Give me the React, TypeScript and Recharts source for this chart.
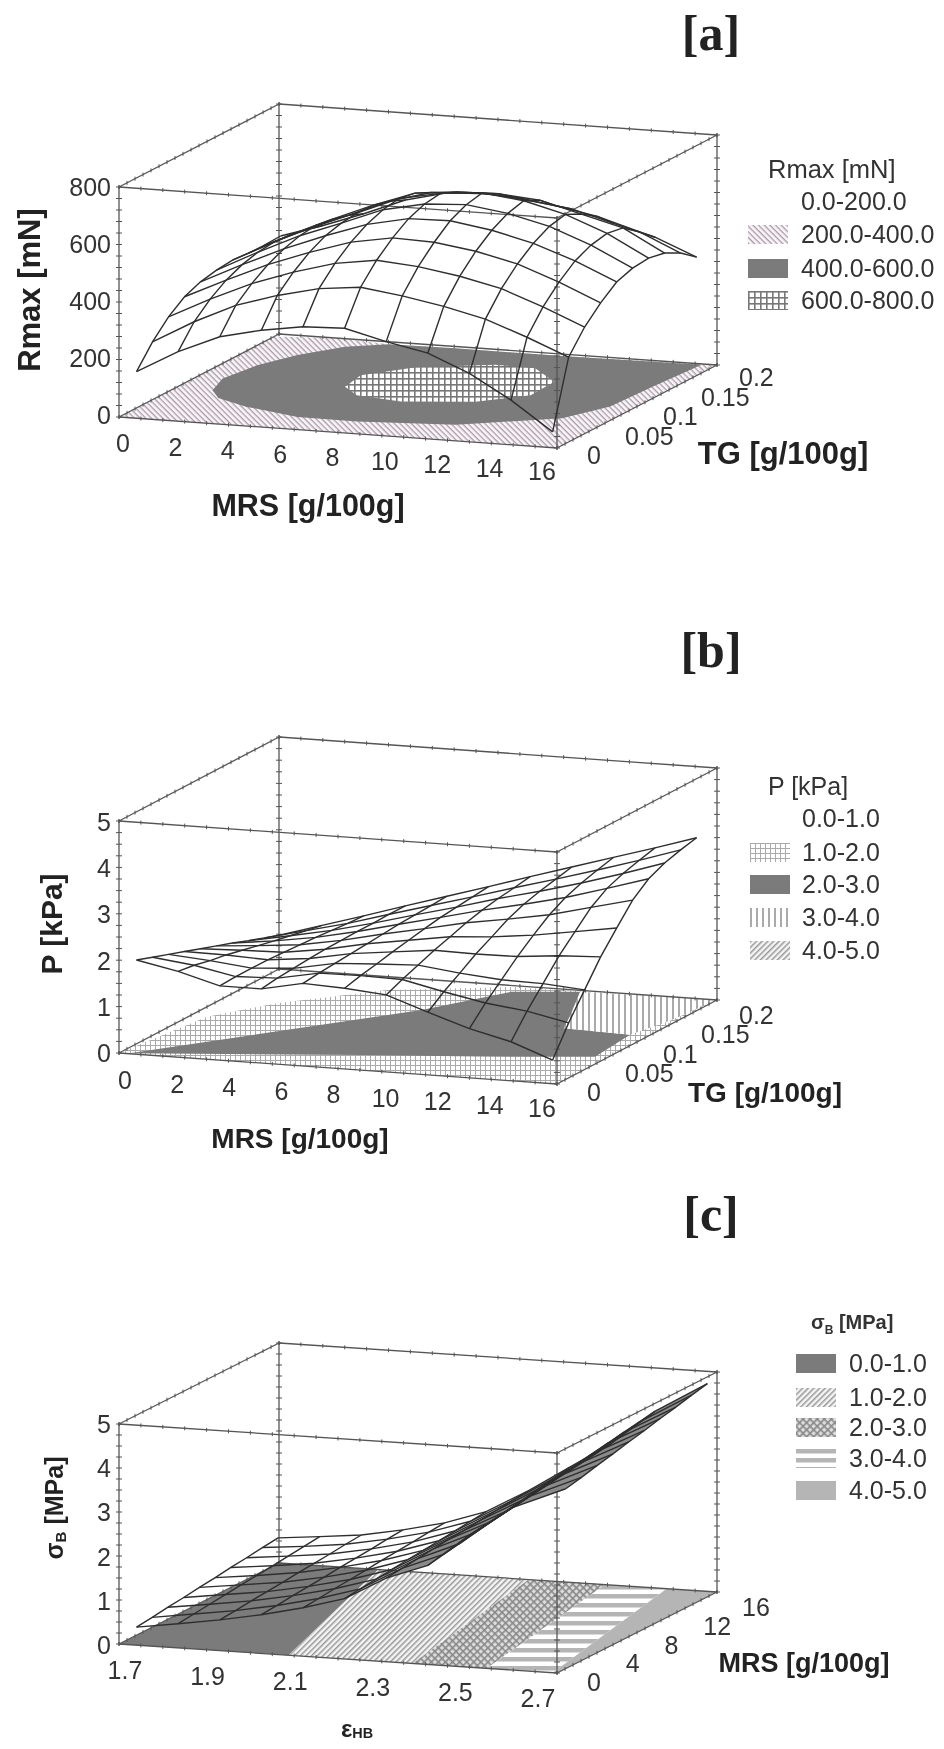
import { ScatterChart, Scatter, XAxis, YAxis } from 'recharts'

// grid of the fitted surfaces (one entry per wire of the mesh)
const mrsGrid = [0.64, 2.16, 3.68, 5.2, 6.72, 8.24, 9.76, 11.28, 12.8, 14.32, 15.84]
const tgGrid = [0, 0.02, 0.04, 0.06, 0.08, 0.1, 0.12, 0.14, 0.16, 0.18]
const strainGrid = [1.74, 1.835, 1.93, 2.025, 2.12, 2.215, 2.31, 2.405, 2.5, 2.6, 2.72]
const mrsRows = [0, 1.57, 3.15, 4.72, 6.29, 7.87, 9.44, 11.01, 12.59, 14.16]

// Rmax [mN]: one row per MRS value, one column per TG value
const rmaxSurface = [
  [162, 237, 295, 336, 359, 371, 377, 372, 371, 374],
  [242, 317, 367, 404, 429, 444, 450, 446, 435, 420],
  [304, 384, 431, 468, 494, 511, 518, 510, 495, 472],
  [337, 429, 481, 521, 550, 565, 572, 570, 555, 530],
  [359, 463, 522, 567, 600, 622, 632, 622, 595, 565],
  [364, 478, 543, 592, 630, 652, 660, 636, 605, 572],
  [328, 458, 531, 587, 633, 660, 672, 640, 600, 558],
  [298, 432, 508, 566, 610, 640, 655, 628, 580, 540],
  [238, 398, 475, 532, 575, 605, 618, 590, 553, 500],
  [155, 345, 422, 479, 524, 550, 562, 552, 510, 462],
  [55, 286, 362, 417, 461, 480, 486, 475, 446, 403],
]

// P [kPa]
const pressureSurface = [
  [2.03, 1.91, 1.79, 1.67, 1.55, 1.43, 1.31, 1.18, 1.06, 0.94],
  [1.85, 1.8, 1.72, 1.66, 1.58, 1.5, 1.42, 1.35, 1.28, 1.21],
  [1.6, 1.62, 1.62, 1.62, 1.6, 1.58, 1.56, 1.53, 1.5, 1.48],
  [1.6, 1.65, 1.68, 1.71, 1.73, 1.74, 1.75, 1.75, 1.76, 1.76],
  [1.78, 1.82, 1.85, 1.88, 1.91, 1.94, 1.97, 1.99, 2.01, 2.03],
  [1.74, 1.83, 1.9, 1.98, 2.05, 2.12, 2.18, 2.22, 2.26, 2.3],
  [1.66, 1.81, 1.94, 2.08, 2.19, 2.31, 2.4, 2.47, 2.52, 2.58],
  [1.35, 1.61, 1.83, 2.06, 2.25, 2.45, 2.59, 2.69, 2.77, 2.85],
  [1.06, 1.43, 1.75, 2.07, 2.35, 2.61, 2.8, 2.93, 3.03, 3.12],
  [0.84, 1.32, 1.73, 2.15, 2.49, 2.83, 3.06, 3.2, 3.3, 3.39],
  [0.51, 1.13, 1.66, 2.19, 2.63, 3.05, 3.33, 3.49, 3.59, 3.67],
]

// sigma B [MPa]: one row per strain value, one column per MRS value
const stressSurface = [
  [0.41, 0.45, 0.5, 0.54, 0.59, 0.63, 0.68, 0.72, 0.77, 0.81],
  [0.55, 0.59, 0.63, 0.67, 0.71, 0.74, 0.78, 0.82, 0.86, 0.9],
  [0.7, 0.73, 0.77, 0.8, 0.83, 0.87, 0.9, 0.93, 0.97, 1.0],
  [0.88, 0.91, 0.95, 0.98, 1.01, 1.05, 1.08, 1.11, 1.15, 1.18],
  [1.1, 1.13, 1.17, 1.2, 1.23, 1.27, 1.3, 1.33, 1.37, 1.4],
  [1.37, 1.41, 1.45, 1.49, 1.53, 1.56, 1.6, 1.64, 1.68, 1.72],
  [1.9, 1.94, 1.98, 2.02, 2.06, 2.09, 2.13, 2.17, 2.21, 2.25],
  [2.25, 2.32, 2.38, 2.45, 2.52, 2.58, 2.65, 2.72, 2.78, 2.85],
  [3.0, 3.05, 3.1, 3.15, 3.2, 3.25, 3.3, 3.35, 3.4, 3.45],
  [3.7, 3.76, 3.82, 3.88, 3.94, 4.01, 4.07, 4.13, 4.19, 4.25],
  [4.2, 4.28, 4.37, 4.45, 4.54, 4.62, 4.71, 4.79, 4.88, 4.96],
]

// contour bands on the floor of each box, as [x value, y value]
const rmaxBand200 = [[0, 0], [0, 0.194], [2.13, 0.2], [4.16, 0.195], [10.88, 0.196], [16, 0.2], [16, 0]]
const rmaxBand400 = [
  [1.34, 0.071], [0.95, 0.097], [1.25, 0.131], [1.9, 0.158], [2.91, 0.183], [4.16, 0.195], [6.56, 0.196],
  [10.88, 0.196], [15.5, 0.198], [15.28, 0.144], [15.14, 0.096], [14.32, 0.064], [11.31, 0.034], [7.94, 0.026],
  [5.73, 0.027], [3.44, 0.041], [2.63, 0.049], [2.02, 0.055],
]
const rmaxBand600 = [
  [5.39, 0.098], [5.18, 0.125], [6.47, 0.15], [8.86, 0.167], [10.35, 0.166], [11.81, 0.14], [11.88, 0.108],
  [10.51, 0.086], [8.1, 0.075], [6.29, 0.082],
]
const pressureBand1 = [[0, 0], [0.62, 0.089], [2.02, 0.128], [4.77, 0.172], [8.61, 0.197], [16, 0.2], [16, 0]]
const pressureBand2 = [
  [0.35, 0.001], [7.1, 0.135], [8.88, 0.187], [11.09, 0.197], [12.29, 0.143], [12.8, 0.118], [15.34, 0.114],
  [15.55, 0.063], [11.84, 0.046], [7.92, 0.032],
]
const pressureBand3 = [[11.09, 0.197], [16, 0.2], [15.76, 0.15], [15.34, 0.114], [12.8, 0.118], [12.29, 0.143]]
const stressBand0 = [[1.7, 0], [1.7, 16], [1.927, 16], [2.087, 0]]
const stressBand1 = [[2.087, 0], [1.927, 16], [2.27, 16], [2.37, 0]]
const stressBand2 = [[2.37, 0], [2.27, 16], [2.445, 16], [2.54, 0]]
const stressBand3 = [[2.54, 0], [2.445, 16], [2.585, 16], [2.69, 0]]
const stressBand4 = [[2.69, 0], [2.585, 16], [2.7, 16], [2.7, 0]]

// tick labels
const mrsTicks = ['0', '2', '4', '6', '8', '10', '12', '14', '16']
const tgTicks = ['0', '0.05', '0.1', '0.15', '0.2']
const rmaxTicks = ['0', '200', '400', '600', '800']
const pressureTicks = ['0', '1', '2', '3', '4', '5']
const strainTicks = ['1.7', '1.9', '2.1', '2.3', '2.5', '2.7']
const mrsDepthTicks = ['0', '4', '8', '12', '16']

const SANS = '"Liberation Sans", Arial, sans-serif'
const SERIF = '"Liberation Serif", "Times New Roman", serif'
const LINE = '#2e2e2e'
const BOX = '#555'
const DARK = '#7b7b7b'

const panels = [
  {
    key: 'a',
    top: 0,
    height: 560,
    title: '[a]',
    titleY: 33,
    origin: [119, 417],
    du: [438, 31],
    dv: [160, -83],
    dw: 230,
    xRange: [0, 16],
    yRange: [0, 0.2],
    zMax: 800,
    xGrid: mrsGrid,
    yGrid: tgGrid,
    surface: rmaxSurface,
    bands: [
      { points: rmaxBand200, fill: 'url(#diagPink)' },
      { points: rmaxBand400, fill: DARK },
      { points: rmaxBand600, fill: 'url(#gridCoarse)' },
    ],
    xTicks: mrsTicks,
    xTickLine: [[123, 443], [542, 471]],
    yTicks: tgTicks,
    yTickLine: [[587, 455], [739, 377]],
    zTicks: rmaxTicks,
    zTickLine: [[111, 415], [111, 187]],
    titles: [
      { x: 29, y: 290, label: 'Rmax  [mN]', size: 31, rotate: true },
      { x: 308, y: 505, label: 'MRS [g/100g]', size: 30.5 },
      { x: 783, y: 453, label: 'TG [g/100g]', size: 31 },
    ],
    legend: {
      title: 'Rmax [mN]',
      titleX: 768,
      titleY: 169,
      titleSize: 25.5,
      swatchX: 748,
      textX: 801,
      rows: [
        { y: 201, label: '0.0-200.0', fill: 'none' },
        { y: 234, label: '200.0-400.0', fill: 'url(#diagPink)' },
        { y: 268, label: '400.0-600.0', fill: DARK },
        { y: 300, label: '600.0-800.0', fill: 'url(#gridCoarse)' },
      ],
    },
  },
  {
    key: 'b',
    top: 560,
    height: 620,
    title: '[b]',
    titleY: 650,
    origin: [119, 1053],
    du: [438, 31],
    dv: [160, -84],
    dw: 232,
    xRange: [0, 16],
    yRange: [0, 0.2],
    zMax: 5,
    xGrid: mrsGrid,
    yGrid: tgGrid,
    surface: pressureSurface,
    bands: [
      { points: pressureBand1, fill: 'url(#gridFine)' },
      { points: pressureBand2, fill: DARK },
      { points: pressureBand3, fill: 'url(#vertical)' },
    ],
    xTicks: mrsTicks,
    xTickLine: [[125, 1080], [542, 1108]],
    yTicks: tgTicks,
    yTickLine: [[587, 1092], [739, 1015]],
    zTicks: pressureTicks,
    zTickLine: [[111, 1053], [111, 822]],
    titles: [
      { x: 51, y: 924, label: 'P  [kPa]', size: 30, rotate: true },
      { x: 300, y: 1138, label: 'MRS [g/100g]', size: 28 },
      { x: 765, y: 1092, label: 'TG [g/100g]', size: 28 },
    ],
    legend: {
      title: 'P [kPa]',
      titleX: 768,
      titleY: 786,
      titleSize: 25,
      swatchX: 750,
      textX: 802,
      rows: [
        { y: 818, label: '0.0-1.0', fill: 'none' },
        { y: 852, label: '1.0-2.0', fill: 'url(#gridFine)' },
        { y: 884, label: '2.0-3.0', fill: DARK },
        { y: 917, label: '3.0-4.0', fill: 'url(#vertical)' },
        { y: 950, label: '4.0-5.0', fill: 'url(#diagDense)' },
      ],
    },
  },
  {
    key: 'c',
    top: 1180,
    height: 569,
    title: '[c]',
    titleY: 1214,
    origin: [119, 1644],
    du: [438, 29],
    dv: [160, -81],
    dw: 220,
    xRange: [1.7, 2.7],
    yRange: [0, 16],
    zMax: 5,
    xGrid: strainGrid,
    yGrid: mrsRows,
    surface: stressSurface,
    shadeFrom: 6,
    bands: [
      { points: stressBand0, fill: DARK },
      { points: stressBand1, fill: 'url(#diagDense)' },
      { points: stressBand2, fill: 'url(#cross)' },
      { points: stressBand3, fill: 'url(#stripes)' },
      { points: stressBand4, fill: '#b5b5b5' },
    ],
    xTicks: strainTicks,
    xTickLine: [[125, 1670], [538, 1698]],
    yTicks: mrsDepthTicks,
    yTickLine: [[587, 1682], [742, 1607]],
    zTicks: pressureTicks,
    zTickLine: [[111, 1645], [111, 1424]],
    titles: [
      { x: 54, y: 1508, label: 'σ', sub: 'B', rest: '  [MPa]', size: 25, rotate: true },
      { x: 357, y: 1728, label: 'ε', sub: 'HB', rest: '', size: 24 },
      { x: 804, y: 1663, label: 'MRS [g/100g]', size: 27 },
    ],
    legend: {
      title: 'σ',
      titleSub: 'B',
      titleRest: ' [MPa]',
      titleBold: true,
      titleX: 811,
      titleY: 1322,
      titleSize: 20,
      swatchX: 796,
      textX: 849,
      rows: [
        { y: 1363, label: '0.0-1.0', fill: DARK },
        { y: 1397, label: '1.0-2.0', fill: 'url(#diagDense)' },
        { y: 1427, label: '2.0-3.0', fill: 'url(#cross)' },
        { y: 1458, label: '3.0-4.0', fill: 'url(#stripes)' },
        { y: 1490, label: '4.0-5.0', fill: '#b5b5b5' },
      ],
    },
  },
]

type PanelT = (typeof panels)[number]

function project(p: PanelT, xv: number, yv: number, zv: number) {
  const u = (xv - p.xRange[0]) / (p.xRange[1] - p.xRange[0])
  const v = (yv - p.yRange[0]) / (p.yRange[1] - p.yRange[0])
  const w = zv / p.zMax
  return {
    x: p.origin[0] + p.du[0] * u + p.dv[0] * v,
    y: p.origin[1] + p.du[1] * u + p.dv[1] * v - p.dw * w,
  }
}

function lerpLabels(labels: string[], line: number[][]) {
  return labels.map((label, i) => {
    const t = i / (labels.length - 1)
    return {
      label,
      x: line[0][0] + (line[1][0] - line[0][0]) * t,
      y: line[0][1] + (line[1][1] - line[0][1]) * t,
    }
  })
}

const NoPoint = () => <g />

const TextMark = (props: any) => {
  const d = props.payload
  return (
    <text
      x={props.cx}
      y={props.cy}
      textAnchor={d.anchor}
      dominantBaseline="central"
      fontFamily={SANS}
      fontSize={d.size}
      fontWeight={d.bold ? 'bold' : 'normal'}
      fill={d.bold ? '#222' : '#333'}
      transform={d.rotate ? `rotate(-90 ${props.cx} ${props.cy})` : undefined}
    >
      {d.label}
      {d.sub ? (
        <tspan fontSize={d.size * 0.6} dy={d.size * 0.22}>
          {d.sub}
        </tspan>
      ) : null}
      {d.rest ? <tspan dy={d.size * -0.22}>{d.rest}</tspan> : null}
    </text>
  )
}

const TickMark = (props: any) => {
  const vertical = props.payload.vertical
  return vertical ? (
    <line x1={props.cx} x2={props.cx} y1={props.cy - 2} y2={props.cy + 2} stroke={BOX} strokeWidth={1} />
  ) : (
    <line x1={props.cx - 3} x2={props.cx + 3} y1={props.cy} y2={props.cy} stroke={BOX} strokeWidth={1} />
  )
}

function boxEdges(p: PanelT) {
  const [x0, x1] = p.xRange
  const [y0, y1] = p.yRange
  const z = p.zMax
  const edges: { a: number[]; b: number[] }[] = []
  for (const x of [x0, x1]) for (const y of [y0, y1]) edges.push({ a: [x, y, 0], b: [x, y, z] })
  for (const zz of [0, z]) {
    for (const y of [y0, y1]) edges.push({ a: [x0, y, zz], b: [x1, y, zz] })
    for (const x of [x0, x1]) edges.push({ a: [x, y0, zz], b: [x, y1, zz] })
  }
  return edges
}

function Panel({ p }: { p: PanelT }) {
  const edges = boxEdges(p)
  const edgeLines = edges.map(e => [project(p, e.a[0], e.a[1], e.a[2]), project(p, e.b[0], e.b[1], e.b[2])])
  const ticks = edges.flatMap(e => {
    const isVertical = e.a[2] !== e.b[2]
    const out = []
    for (let k = 0; k <= 20; k++) {
      const t = k / 20
      const pt = project(
        p,
        e.a[0] + (e.b[0] - e.a[0]) * t,
        e.a[1] + (e.b[1] - e.a[1]) * t,
        e.a[2] + (e.b[2] - e.a[2]) * t,
      )
      out.push({ ...pt, vertical: !isVertical })
    }
    return out
  })

  const xWires = p.xGrid.map((xv, i) => p.yGrid.map((yv, j) => project(p, xv, yv, p.surface[i][j])))
  const yWires = p.yGrid.map((yv, j) => p.xGrid.map((xv, i) => project(p, xv, yv, p.surface[i][j])))

  // the narrow end of the stress surface reads as a grey strip, the wires sit so close
  const shadeFrom = (p as any).shadeFrom
  const shade =
    shadeFrom !== undefined
      ? [...yWires[0].slice(shadeFrom), ...yWires[yWires.length - 1].slice(shadeFrom).reverse()]
      : null

  const labels = [
    ...lerpLabels(p.xTicks, p.xTickLine).map(t => ({ ...t, anchor: 'middle', size: 25 })),
    ...lerpLabels(p.yTicks, p.yTickLine).map(t => ({ ...t, anchor: 'start', size: 25 })),
    ...lerpLabels(p.zTicks, p.zTickLine).map(t => ({ ...t, anchor: 'end', size: 25 })),
    ...p.titles.map(t => ({ ...t, anchor: 'middle', bold: true })),
  ]

  return (
    <ScatterChart
      width={944}
      height={p.height}
      margin={{ top: 0, right: 0, bottom: 0, left: 0 }}
      style={{ position: 'absolute', left: 0, top: p.top }}
    >
      <XAxis type="number" dataKey="x" domain={[0, 944]} hide allowDataOverflow />
      <YAxis type="number" dataKey="y" domain={[p.top, p.top + p.height]} reversed hide allowDataOverflow width={0} />
      {p.bands.map((b, i) => (
        <Scatter
          key={`band${i}`}
          data={b.points.map(pt => project(p, pt[0], pt[1], 0))}
          shape={NoPoint}
          line={{ fill: b.fill, stroke: 'none' }}
          isAnimationActive={false}
        />
      ))}
      {edgeLines.map((pts, i) => (
        <Scatter
          key={`edge${i}`}
          data={pts}
          shape={NoPoint}
          line={{ stroke: BOX, strokeWidth: 1.3, fill: 'none' }}
          isAnimationActive={false}
        />
      ))}
      <Scatter data={ticks} shape={TickMark} isAnimationActive={false} />
      {shade ? (
        <Scatter
          data={shade}
          shape={NoPoint}
          line={{ fill: '#8a8a8a', stroke: 'none' }}
          isAnimationActive={false}
        />
      ) : null}
      {xWires.map((pts, i) => (
        <Scatter
          key={`xw${i}`}
          data={pts}
          shape={NoPoint}
          line={{ stroke: LINE, strokeWidth: 1.4, fill: 'none' }}
          isAnimationActive={false}
        />
      ))}
      {yWires.map((pts, i) => (
        <Scatter
          key={`yw${i}`}
          data={pts}
          shape={NoPoint}
          line={{ stroke: LINE, strokeWidth: 1.4, fill: 'none' }}
          isAnimationActive={false}
        />
      ))}
      <Scatter data={labels} shape={TextMark} isAnimationActive={false} />
    </ScatterChart>
  )
}

function HatchDefs() {
  return (
    <svg width={0} height={0} style={{ position: 'absolute' }}>
      <defs>
        <pattern id="diagPink" width={4} height={4} patternUnits="userSpaceOnUse" patternTransform="rotate(45)">
          <rect width={4} height={4} fill="#fbf4f9" />
          <rect width={4} height={1.3} fill="#a59ca6" />
        </pattern>
        <pattern id="gridCoarse" width={6} height={6} patternUnits="userSpaceOnUse">
          <rect width={6} height={6} fill="#fff" />
          <rect width={6} height={1.6} fill="#777" />
          <rect width={1.6} height={6} fill="#777" />
        </pattern>
        <pattern id="gridFine" width={5} height={5} patternUnits="userSpaceOnUse">
          <rect width={5} height={5} fill="#fff" />
          <rect width={5} height={1} fill="#aaa" />
          <rect width={1} height={5} fill="#aaa" />
        </pattern>
        <pattern id="vertical" width={6} height={6} patternUnits="userSpaceOnUse">
          <rect width={6} height={6} fill="#fff" />
          <rect width={2} height={6} fill="#aaa" />
        </pattern>
        <pattern id="diagDense" width={4} height={4} patternUnits="userSpaceOnUse" patternTransform="rotate(-45)">
          <rect width={4} height={4} fill="#f4f4f4" />
          <rect width={4} height={1.5} fill="#999" />
        </pattern>
        <pattern id="cross" width={5} height={5} patternUnits="userSpaceOnUse" patternTransform="rotate(45)">
          <rect width={5} height={5} fill="#ddd" />
          <rect width={5} height={1.6} fill="#888" />
          <rect width={1.6} height={5} fill="#888" />
        </pattern>
        <pattern id="stripes" width={9} height={9} patternUnits="userSpaceOnUse">
          <rect width={9} height={9} fill="#fff" />
          <rect width={9} height={4.5} fill="#b5b5b5" />
        </pattern>
      </defs>
    </svg>
  )
}

function Legend3({ p }: { p: PanelT }) {
  const l: any = p.legend
  return (
    <>
      <div
        style={{
          position: 'absolute',
          left: l.titleX,
          top: l.titleY - 16,
          lineHeight: '32px',
          fontFamily: SANS,
          fontSize: l.titleSize,
          fontWeight: l.titleBold ? 'bold' : 'normal',
          color: '#333',
          whiteSpace: 'pre',
        }}
      >
        {l.title}
        {l.titleSub ? <sub style={{ fontSize: '60%', lineHeight: 0 }}>{l.titleSub}</sub> : null}
        {l.titleRest}
      </div>
      {l.rows.map((r: any) => (
        <div key={r.label}>
          <svg width={40} height={19} style={{ position: 'absolute', left: l.swatchX, top: r.y - 9 }}>
            <rect width={40} height={19} fill={r.fill} />
          </svg>
          <div
            style={{
              position: 'absolute',
              left: l.textX,
              top: r.y - 16,
              lineHeight: '32px',
              fontFamily: SANS,
              fontSize: 25,
              color: '#333',
              whiteSpace: 'pre',
            }}
          >
            {r.label}
          </div>
        </div>
      ))}
    </>
  )
}

export default function App() {
  return (
    <div
      style={{
        position: 'absolute',
        left: 0,
        top: 0,
        width: 944,
        height: 1749,
        background: '#fff',
        overflow: 'hidden',
        filter: 'blur(0.5px)',
      }}
    >
      <HatchDefs />
      {panels.map(p => (
        <div key={p.key}>
          <Panel p={p} />
          <Legend3 p={p} />
          <div
            style={{
              position: 'absolute',
              left: 611,
              width: 200,
              textAlign: 'center',
              top: p.titleY - 30,
              lineHeight: '60px',
              fontFamily: SERIF,
              fontWeight: 'bold',
              fontSize: 50,
              color: '#222',
            }}
          >
            {p.title}
          </div>
        </div>
      ))}
    </div>
  )
}
